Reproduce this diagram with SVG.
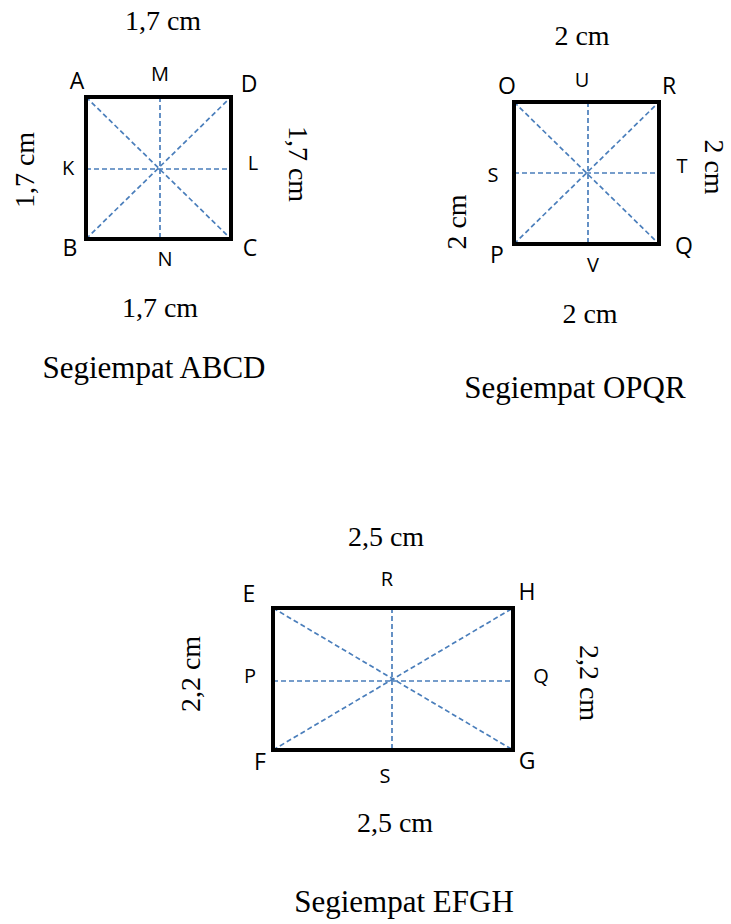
<svg xmlns="http://www.w3.org/2000/svg" width="731" height="924" viewBox="0 0 731 924">
<style>
.frame{fill:none;stroke:#000;stroke-width:4;stroke-linejoin:miter}
.guide{stroke:#4a7ebb;stroke-width:1.7;stroke-dasharray:5 3;fill:none}
.dim{font-family:"Liberation Serif","Times New Roman",serif;font-size:28px;fill:#000;text-anchor:middle}
.title{font-family:"Liberation Serif","Times New Roman",serif;font-size:31px;fill:#000;text-anchor:middle}
.corner{font-family:"Open Sans","Liberation Sans",sans-serif;font-size:23px;fill:#000;text-anchor:middle}
.mid{font-family:"Open Sans","Liberation Sans",sans-serif;font-size:20px;fill:#000;text-anchor:middle}
</style>
<rect width="731" height="924" fill="#fff"/>

<g id="ABCD">
  <g class="guide">
    <line x1="86" y1="97" x2="231" y2="239"/>
    <line x1="86" y1="239" x2="231" y2="97"/>
    <line x1="160" y1="97" x2="160" y2="239"/>
    <line x1="86" y1="169" x2="231" y2="169"/>
  </g>
  <rect class="frame" x="86" y="97" width="145" height="142"/>
  <text class="corner" x="77" y="89">A</text>
  <text class="mid" x="160" y="81">M</text>
  <text class="corner" x="249" y="92">D</text>
  <text class="mid" x="68" y="175">K</text>
  <text class="mid" x="253" y="170">L</text>
  <text class="corner" x="70" y="256">B</text>
  <text class="mid" x="165" y="266">N</text>
  <text class="corner" x="250" y="256">C</text>
  <text class="dim" x="163" y="30">1,7 cm</text>
  <text class="dim" transform="translate(34,170) rotate(-90)">1,7 cm</text>
  <text class="dim" transform="translate(289,164) rotate(90)">1,7 cm</text>
  <text class="dim" x="160" y="317">1,7 cm</text>
  <text class="title" x="154" y="378">Segiempat ABCD</text>
</g>

<g id="OPQR">
  <g class="guide">
    <line x1="514" y1="102" x2="659" y2="244"/>
    <line x1="514" y1="244" x2="659" y2="102"/>
    <line x1="588" y1="102" x2="588" y2="244"/>
    <line x1="514" y1="173" x2="659" y2="173"/>
  </g>
  <rect class="frame" x="514" y="102" width="145" height="142"/>
  <text class="corner" x="507" y="94">O</text>
  <text class="mid" x="582" y="87">U</text>
  <text class="corner" x="669" y="94">R</text>
  <text class="mid" x="493" y="182">S</text>
  <text class="mid" x="682" y="173">T</text>
  <text class="corner" x="497" y="263">P</text>
  <text class="mid" x="593" y="272">V</text>
  <text class="corner" x="684" y="254">Q</text>
  <text class="dim" x="582" y="45">2 cm</text>
  <text class="dim" transform="translate(466,222) rotate(-90)">2 cm</text>
  <text class="dim" transform="translate(705,167) rotate(90)">2 cm</text>
  <text class="dim" x="590" y="323">2 cm</text>
  <text class="title" x="575" y="398">Segiempat OPQR</text>
</g>

<g id="EFGH">
  <g class="guide">
    <line x1="273" y1="608" x2="513" y2="750"/>
    <line x1="273" y1="750" x2="513" y2="608"/>
    <line x1="392" y1="608" x2="392" y2="750"/>
    <line x1="273" y1="681" x2="513" y2="681"/>
  </g>
  <rect class="frame" x="273" y="608" width="240" height="142"/>
  <text class="corner" x="249" y="602">E</text>
  <text class="mid" x="387" y="586">R</text>
  <text class="corner" x="527" y="600">H</text>
  <text class="mid" x="250" y="683">P</text>
  <text class="mid" x="541" y="683">Q</text>
  <text class="corner" x="260" y="770">F</text>
  <text class="mid" x="385" y="783">S</text>
  <text class="corner" x="527" y="769">G</text>
  <text class="dim" x="386" y="546">2,5 cm</text>
  <text class="dim" transform="translate(200,674) rotate(-90)">2,2 cm</text>
  <text class="dim" transform="translate(580,683) rotate(90)">2,2 cm</text>
  <text class="dim" x="395" y="832">2,5 cm</text>
  <text class="title" x="404" y="912">Segiempat EFGH</text>
</g>

<g id="connectors"></g>
</svg>
